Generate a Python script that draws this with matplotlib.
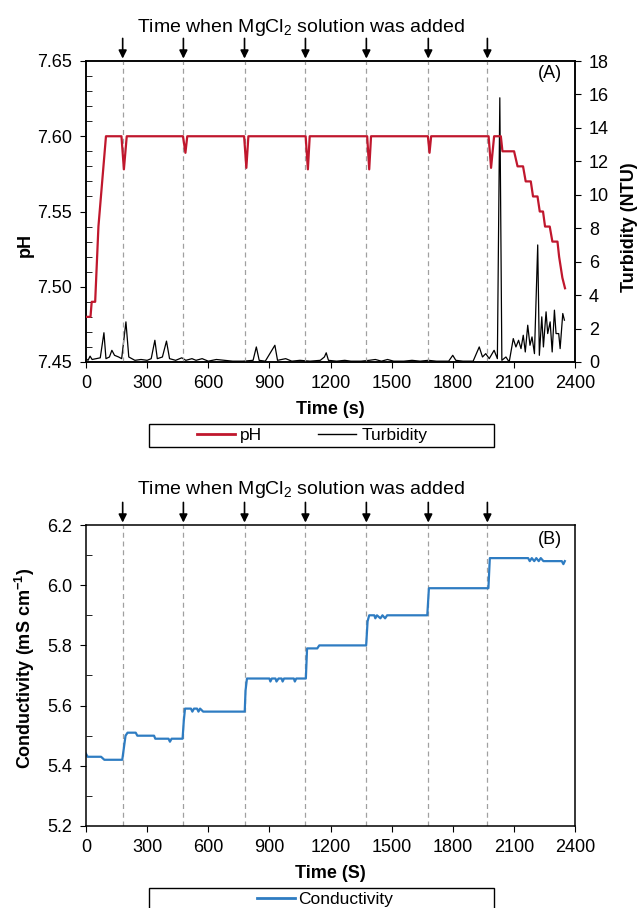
import matplotlib
matplotlib.use('Agg')
import matplotlib.pyplot as plt
from matplotlib.lines import Line2D
from matplotlib.patches import Rectangle
from matplotlib.ticker import MultipleLocator, FormatStrFormatter

plt.rcParams['font.family'] = ['Liberation Sans', 'DejaVu Sans']
plt.rcParams['font.size'] = 13
plt.rcParams['mathtext.fontset'] = 'custom'
plt.rcParams['mathtext.rm'] = 'Liberation Sans'
plt.rcParams['mathtext.bf'] = 'Liberation Sans:bold'
plt.rcParams['mathtext.default'] = 'regular'

# times when MgCl2 was added (s)
add_times = [180, 478, 778, 1077, 1376, 1680, 1970]

# pH (A)
ph_t = [0, 22, 28, 45, 61, 98,
        174, 186, 200, 476, 488, 497, 776, 787, 797, 1078, 1089, 1098,
        1380, 1390, 1399, 1678, 1686, 1694, 1976, 1988, 2003, 2036,
        2044, 2101, 2118, 2145, 2158, 2183, 2194, 2216, 2227, 2243,
        2253, 2276, 2289, 2314, 2322, 2338, 2351]
ph_v = [7.48, 7.48, 7.49, 7.49, 7.54, 7.60,
        7.60, 7.578, 7.60, 7.60, 7.589, 7.60, 7.60, 7.579, 7.60, 7.60, 7.578, 7.60,
        7.60, 7.578, 7.60, 7.60, 7.589, 7.60, 7.60, 7.579, 7.60, 7.60,
        7.59, 7.59, 7.58, 7.58, 7.57, 7.57, 7.56, 7.56, 7.55, 7.55,
        7.54, 7.54, 7.53, 7.53, 7.52, 7.506, 7.499]

# turbidity (NTU)
turb_t = [0, 10, 20, 30, 50, 70, 88, 98, 115, 127, 140, 160, 175, 196, 210,
          240, 270, 300, 320, 338, 350, 375, 395, 410, 440, 470, 490, 520,
          540, 570, 600, 640, 680, 720, 770, 820, 836, 850, 880, 927, 940,
          980, 1010, 1050, 1100, 1150, 1170, 1179, 1190, 1230, 1270, 1300,
          1350, 1390, 1420, 1450, 1480, 1510, 1560, 1600, 1640, 1680, 1720,
          1780, 1800, 1815, 1850, 1900, 1930, 1946, 1962, 1979, 2003, 2019,
          2031, 2041, 2061, 2077, 2097, 2110, 2123, 2135, 2146, 2156, 2168,
          2179, 2189, 2201, 2217, 2225, 2237, 2245, 2258, 2266, 2278, 2288,
          2299, 2307, 2320, 2327, 2340, 2348]
turb_v = [0.2, 0.1, 0.35, 0.15, 0.2, 0.25, 1.75, 0.2, 0.3, 0.7, 0.4, 0.3, 0.2, 2.4, 0.3,
          0.1, 0.15, 0.1, 0.2, 1.3, 0.2, 0.3, 1.25, 0.2, 0.1, 0.25, 0.1, 0.2,
          0.1, 0.2, 0.05, 0.15, 0.1, 0.05, 0.05, 0.1, 0.9, 0.1, 0.05, 1.0, 0.1,
          0.2, 0.05, 0.1, 0.05, 0.1, 0.3, 0.55, 0.1, 0.05, 0.1, 0.05,
          0.05, 0.1, 0.15, 0.05, 0.15, 0.05, 0.05, 0.1, 0.05, 0.1, 0.05,
          0.05, 0.4, 0.1, 0.05, 0.05, 0.9, 0.3, 0.5, 0.2, 0.7, 0.2,
          15.8, 0.1, 0.3, 0.0, 1.4, 0.9, 1.3, 0.8, 1.6, 0.6, 2.2,
          1.0, 1.5, 0.5, 7.0, 0.4, 2.7, 0.9, 3.0, 1.7, 2.4, 0.6,
          3.1, 1.7, 1.7, 0.8, 2.9, 2.5]

# conductivity (B)
cond_t = [0, 8, 74, 90, 178, 186, 194, 204, 244, 252, 334, 340, 405, 412, 420,
          474, 480, 486, 515, 522, 530, 545, 552, 560, 575, 779, 783, 790,
          900, 905, 912, 930, 935, 945, 960, 965, 972, 1020, 1025, 1032, 1079,
          1085, 1135, 1145, 1375, 1382, 1390, 1415, 1420, 1428, 1445, 1455,
          1468, 1478, 1675, 1683, 1975, 1982, 2170, 2178, 2188, 2200, 2210,
          2222, 2232, 2245, 2335, 2343, 2350]
cond_v = [5.44, 5.43, 5.43, 5.42, 5.42, 5.46, 5.50, 5.51, 5.51, 5.50, 5.50, 5.49, 5.49, 5.48, 5.49,
          5.49, 5.55, 5.59, 5.59, 5.58, 5.59, 5.59, 5.58, 5.59, 5.58, 5.58, 5.65, 5.69,
          5.69, 5.68, 5.69, 5.69, 5.68, 5.69, 5.69, 5.68, 5.69, 5.69, 5.68, 5.69, 5.69,
          5.79, 5.79, 5.80, 5.80, 5.88, 5.90, 5.90, 5.89, 5.90, 5.89, 5.90,
          5.89, 5.90, 5.90, 5.99, 5.99, 6.09, 6.09, 6.08, 6.09, 6.08, 6.09,
          6.08, 6.09, 6.08, 6.08, 6.07, 6.08]

RED = '#C0172D'
BLUE = '#2E7CC2'
GREY = '#A0A0A0'
W, H = 641, 908


def box(l, t, r, b):
    return [l / W, 1 - b / H, (r - l) / W, (b - t) / H]


def add_markers(ax):
    for t in add_times:
        ax.axvline(t, color=GREY, ls=(0, (4, 3)), lw=0.9, zorder=0)
        ax.annotate('', xy=(t, 1.008), xytext=(t, 1.075),
                    xycoords=ax.get_xaxis_transform(),
                    arrowprops=dict(arrowstyle='-|>', color='black', lw=1.2,
                                    mutation_scale=12, shrinkA=0, shrinkB=0),
                    annotation_clip=False)


fig = plt.figure(figsize=(W / 100, H / 100), dpi=100)

# ---- (A) pH and turbidity
ax1 = fig.add_axes(box(86, 61, 575, 362))
ax2 = ax1.twinx()
add_markers(ax1)
ax1.plot(ph_t, ph_v, color=RED, lw=1.6, zorder=3)
ax2.plot(turb_t, turb_v, color='black', lw=0.9)
ax1.set_zorder(ax2.get_zorder() + 1)
ax1.patch.set_visible(False)

ax1.set_xlim(0, 2400)
ax1.set_ylim(7.45, 7.65)
ax1.set_xticks([0, 300, 600, 900, 1200, 1500, 1800, 2100, 2400])
ax1.set_yticks([7.45, 7.50, 7.55, 7.60, 7.65])
ax1.yaxis.set_major_formatter(FormatStrFormatter('%.2f'))
ax1.yaxis.set_minor_locator(MultipleLocator(0.01))
ax1.tick_params(axis='y', which='major', direction='out', length=4, pad=6)
ax1.tick_params(axis='y', which='minor', direction='in', length=4)
ax1.tick_params(axis='x', direction='out', length=4, pad=5)
ax2.set_ylim(0, 18)
ax2.set_yticks(range(0, 19, 2))
ax2.tick_params(direction='out', length=4, pad=6)

ax1.set_xlabel('Time (s)', fontweight='bold')
ax1.xaxis.set_label_coords(0.5, -(409 - 362) / 301)
ax1.xaxis.label.set_va('center')
ax1.set_ylabel('pH', fontweight='bold')
ax1.yaxis.set_label_coords((25 - 86) / 489, (362 - 245) / 301)
ax1.yaxis.label.set_va('center')
ax2.set_ylabel('Turbidity (NTU)', fontweight='bold')
ax2.yaxis.set_label_coords((630 - 86) / 489, (362 - 227) / 301)
ax2.yaxis.label.set_va('center')
ax1.text((550 - 86) / 489, (362 - 73) / 301, '(A)', transform=ax1.transAxes,
         ha='center', va='center')

# ---- (B) conductivity
ax3 = fig.add_axes(box(86, 525, 575, 826))
add_markers(ax3)
ax3.plot(cond_t, cond_v, color=BLUE, lw=1.6)
ax3.set_xlim(0, 2400)
ax3.set_ylim(5.2, 6.2)
ax3.set_xticks([0, 300, 600, 900, 1200, 1500, 1800, 2100, 2400])
ax3.set_yticks([5.2, 5.4, 5.6, 5.8, 6.0, 6.2])
ax3.yaxis.set_major_formatter(FormatStrFormatter('%.1f'))
ax3.yaxis.set_minor_locator(MultipleLocator(0.1))
ax3.tick_params(axis='y', which='major', direction='out', length=4, pad=6)
ax3.tick_params(axis='y', which='minor', direction='in', length=4)
ax3.tick_params(axis='x', direction='out', length=4, pad=5)
ax3.set_xlabel('Time (S)', fontweight='bold')
ax3.xaxis.set_label_coords(0.5, -(873 - 826) / 301)
ax3.xaxis.label.set_va('center')
ax3.set_ylabel('Conductivity (mS cm$^{-1}$)', fontweight='bold')
ax3.yaxis.set_label_coords((25 - 86) / 489, (826 - 668) / 301)
ax3.yaxis.label.set_va('center')
ax3.text((550 - 86) / 489, (826 - 539) / 301, '(B)', transform=ax3.transAxes,
         ha='center', va='center')

for ax in (ax1, ax2, ax3):
    for s in ax.spines.values():
        s.set_linewidth(1.1)

# titles above the panels
for y in (27, 490):
    fig.text(301 / W, 1 - y / H, 'Time when MgCl$_2$ solution was added',
             ha='center', va='center', fontsize=14)

# legends with square boxes
fig.patches.append(Rectangle((149 / W, 1 - 447 / H), 345 / W, 23 / H,
                             transform=fig.transFigure, fill=False,
                             ec='black', lw=1))
fig.legend(handles=[Line2D([], [], color=RED, lw=2, label='pH'),
                    Line2D([], [], color='black', lw=1, label='Turbidity')],
           loc='center', bbox_to_anchor=(312 / W, 1 - 435.5 / H), ncol=2,
           frameon=False, handlelength=2.2, columnspacing=3.2,
           handletextpad=0.3, fontsize=12.5)
fig.patches.append(Rectangle((149 / W, 1 - 911 / H), 345 / W, 23 / H,
                             transform=fig.transFigure, fill=False,
                             ec='black', lw=1))
fig.legend(handles=[Line2D([], [], color=BLUE, lw=2, label='Conductivity')],
           loc='center', bbox_to_anchor=(325 / W, 1 - 899 / H),
           frameon=False, handlelength=2.2, handletextpad=0.2, fontsize=12.5)

fig.savefig('out.png', dpi=100)
